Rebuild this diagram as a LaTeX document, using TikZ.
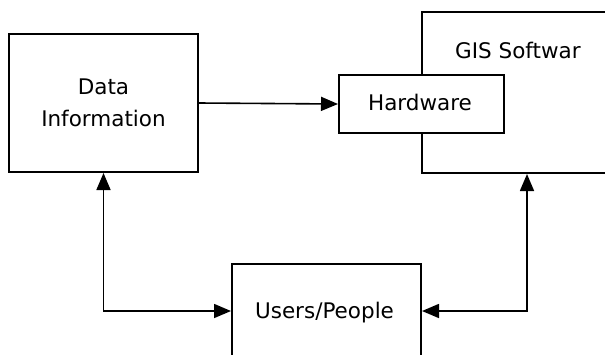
\documentclass[tikz,border=0pt]{standalone}
\usepackage{fontspec}
\setmainfont{DejaVu Sans}
\usetikzlibrary{arrows.meta}
\begin{document}
\begin{tikzpicture}[x=1pt,y=-1pt,
  box/.style={draw=black,line width=2pt,fill=white,inner sep=0pt},
  lbl/.style={font=\fontsize{21.5}{32}\selectfont,inner sep=0pt,align=center},
  tip/.style={},
  conn/.style={line width=1.6pt,-{Triangle[length=17pt,width=14pt]}},
  bconn/.style={line width=1.6pt,{Triangle[length=17pt,width=14pt]}-{Triangle[length=17pt,width=14pt]}}]
\useasboundingbox (0,0) rectangle (605,354);
\clip (0,0) rectangle (605,354);
\fill[white] (0,0) rectangle (605,354);
\node[box,minimum width=189pt,minimum height=138pt] (data) at (103.5,103) {};
\node[lbl,anchor=base] (datat) at (103.5,94) {Data};
\node[lbl,anchor=base] (infot) at (103.5,126) {Information};
\node[box,minimum width=210pt,minimum height=161pt] (gis) at (527,92.5) {};
\node[lbl,anchor=base west] (gist) at (455,58) {GIS Softwar};
\node[box,minimum width=165pt,minimum height=58pt] (hw) at (421.5,104) {};
\node[lbl,anchor=base] (hwt) at (420,110) {Hardware};
\node[box,minimum width=189pt,minimum height=94pt] (users) at (326.5,311) {};
\node[lbl,anchor=base] (userst) at (324.5,318) {Users/People};
\draw[conn] (data.east) -- (hw.west);
\draw[bconn] (data.south) |- (users.west);
\draw[bconn] (gis.south) |- (users.east);
\end{tikzpicture}
\end{document}
